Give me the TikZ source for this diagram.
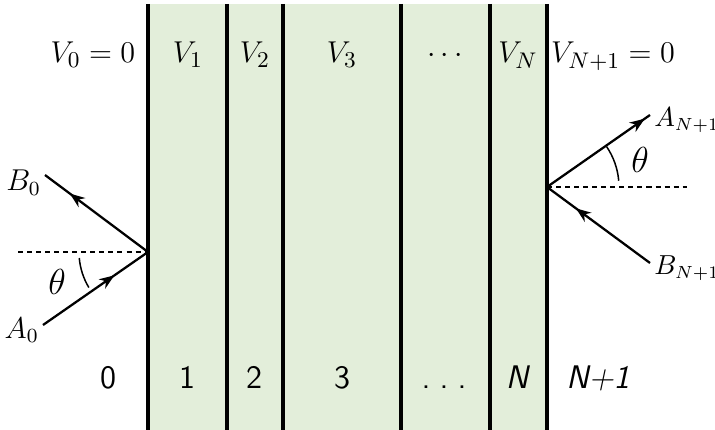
\documentclass[tikz,border=0pt]{standalone}
\usetikzlibrary{arrows.meta,decorations.markings}
\DeclareMathSizes{11}{11}{7}{5}
\definecolor{layergreen}{RGB}{227,238,218}
\begin{document}
\begin{tikzpicture}[x=0.01399cm,y=-0.01399cm]
\tikzset{wall/.style={line width=1.4pt}}
\tikzset{ray/.style={line width=0.9pt,postaction={decorate},
  decoration={markings,mark=at position #1 with {\arrow{Stealth[length=6pt,width=4.5pt]}}}}}
\tikzset{normalline/.style={line width=0.6pt,dash pattern=on 2pt off 1.6pt}}
\tikzset{potlabel/.style={font=\fontsize{12.5}{15}\selectfont,anchor=base}}
\tikzset{regionlabel/.style={font=\sffamily\fontsize{13}{15}\selectfont,anchor=base}}
\tikzset{amplabel/.style={font=\fontsize{12}{14}\selectfont,inner sep=0.5pt}}
\useasboundingbox (0,0) rectangle (715,430);
\fill[layergreen] (148,4) rectangle (547,430);
\foreach \x/\n in {148/w0,227/w1,283/w2,401/w3,490/w4,547/w5}
  \draw[wall] (\x,4) coordinate (\n top) -- (\x,430) coordinate (\n bottom);
\node[potlabel] (V0) at (93,63) {$V_0=0$};
\node[potlabel] (V1) at (188,63) {$V_1$};
\node[potlabel] (V2) at (255,63) {$V_2$};
\node[potlabel] (V3) at (342,63) {$V_3$};
\node[potlabel] (Vdots) at (445,63) {$\cdots$};
\node[potlabel] (VN) at (518,63) {$V_N$};
\node[potlabel] (VN1) at (613,63) {$V_{N+1}=0$};
\node[regionlabel] (R0) at (108,388) {0};
\node[regionlabel] (R1) at (187,388) {1};
\node[regionlabel] (R2) at (254,388) {2};
\node[regionlabel] (R3) at (342,388) {3};
\node[regionlabel] (Rdots) at (444,388) {.\hspace{0.28em}.\hspace{0.28em}.};
\node[regionlabel] (RN) at (518,388) {\textsl{N}};
\node[regionlabel] (RN1) at (598,388) {\textsl{N+1}};
\coordinate (hitL) at (148,252);
\coordinate (hitR) at (547,187);
\coordinate (a0) at (43,325);
\coordinate (b0) at (45,175);
\coordinate (aN) at (650,115);
\coordinate (bN) at (650,263);
\coordinate (nL) at (18,252);
\coordinate (nR) at (687,187);
\node[amplabel,anchor=east] (A0) at ([xshift=-1,yshift=-2]a0) {$A_0$};
\node[amplabel,anchor=east] (B0) at ([xshift=-1,yshift=-3]b0) {$B_0$};
\node[amplabel,anchor=west,font=\fontsize{11}{13}\selectfont] (AN1) at ([xshift=1,yshift=-2]aN) {$A_{N+1}$};
\node[amplabel,anchor=west,font=\fontsize{11}{13}\selectfont] (BN1) at ([xshift=1,yshift=-2]bN) {$B_{N+1}$};
\draw[normalline] (nL) -- (hitL);
\draw[normalline] (hitR) -- (nR);
\draw[ray=0.68] (a0) -- (hitL);
\draw[ray=0.76] (hitL) -- (b0);
\draw[ray=0.95] (hitR) -- (aN);
\draw[ray=0.72] (bN) -- (hitR);
\draw[line width=0.6pt] (hitL) ++(175:69) arc (175:149:69);
\draw[line width=0.6pt] (hitR) ++(-5:72) arc (-5:-34:72);
\node[font=\fontsize{15}{17}\selectfont] (thetaL) at (57,282) {$\theta$};
\node[font=\fontsize{15}{17}\selectfont] (thetaR) at (640,160) {$\theta$};
\end{tikzpicture}
\end{document}
